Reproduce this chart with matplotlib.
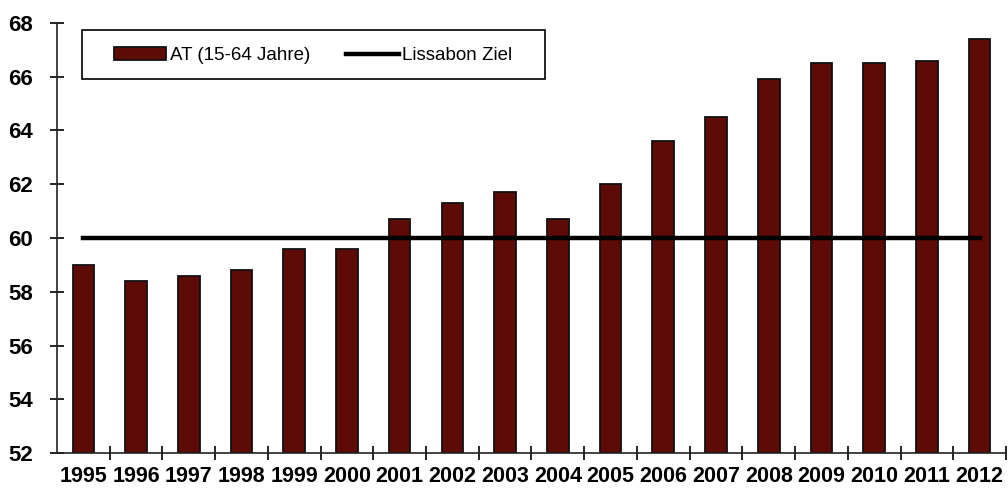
import matplotlib.pyplot as plt
from matplotlib.patches import Rectangle
from matplotlib.ticker import FixedLocator

years = ["1995", "1996", "1997", "1998", "1999", "2000", "2001", "2002", "2003",
         "2004", "2005", "2006", "2007", "2008", "2009", "2010", "2011", "2012"]
employment_rate = [59.0, 58.4, 58.6, 58.8, 59.6, 59.6, 60.7, 61.3, 61.7,
                   60.7, 62.0, 63.6, 64.5, 65.9, 66.5, 66.5, 66.6, 67.4]
lisbon_target = [60.0] * len(years)
y_ticks = [52, 54, 56, 58, 60, 62, 64, 66, 68]

plt.rcParams["font.family"] = ["Liberation Sans", "DejaVu Sans"]

fig = plt.figure(figsize=(10.08, 4.88), dpi=100)
ax = fig.add_axes([0.0565, 0.0717, 0.9415, 0.8812])

x = list(range(len(years)))
bars = ax.bar(x, [v - 52 for v in employment_rate], bottom=52, width=0.41,
              color="#5e0b07", edgecolor="#111111", linewidth=1.3,
              label="AT (15-64 Jahre)", zorder=2)
line, = ax.plot(x, lisbon_target, color="black", linewidth=3.2,
                label="Lissabon Ziel", zorder=3)

ax.set_xlim(-0.5, len(years) - 0.5)
ax.set_ylim(52, 68)

for side in ["top", "right"]:
    ax.spines[side].set_visible(False)
for side in ["left", "bottom"]:
    ax.spines[side].set_linewidth(1.2)
    ax.spines[side].set_color("#222222")

ax.set_yticks(y_ticks)
ax.set_yticklabels([str(t) for t in y_ticks], fontsize=16, fontweight="bold")
ax.tick_params(axis="y", direction="inout", length=10, width=1.2, pad=12)

ax.set_xticks(x)
ax.set_xticklabels(years, fontsize=15.5, fontweight="bold")
ax.xaxis.set_minor_locator(FixedLocator([i + 0.5 for i in x]))
ax.tick_params(axis="x", which="major", length=0, pad=9)
ax.tick_params(axis="x", which="minor", direction="inout", length=10, width=1.2)

# legend box drawn separately so its padding can be wider than tall
fig.patches.append(Rectangle((0.0813, 0.8381), 0.4593, 0.1004,
                             transform=fig.transFigure, fill=True,
                             facecolor="white", edgecolor="black",
                             linewidth=1.2, zorder=5))
leg = fig.legend([bars, line], ["AT (15-64 Jahre)", "Lissabon Ziel"],
                 loc="center left", bbox_to_anchor=(0.113, 0.886), ncol=2,
                 fontsize=13.5, frameon=False,
                 handlelength=2.8, handletextpad=0.2, columnspacing=1.9,
                 borderpad=0, borderaxespad=0)
leg.set_zorder(6)

fig.savefig("out.png", dpi=100, facecolor="white")
